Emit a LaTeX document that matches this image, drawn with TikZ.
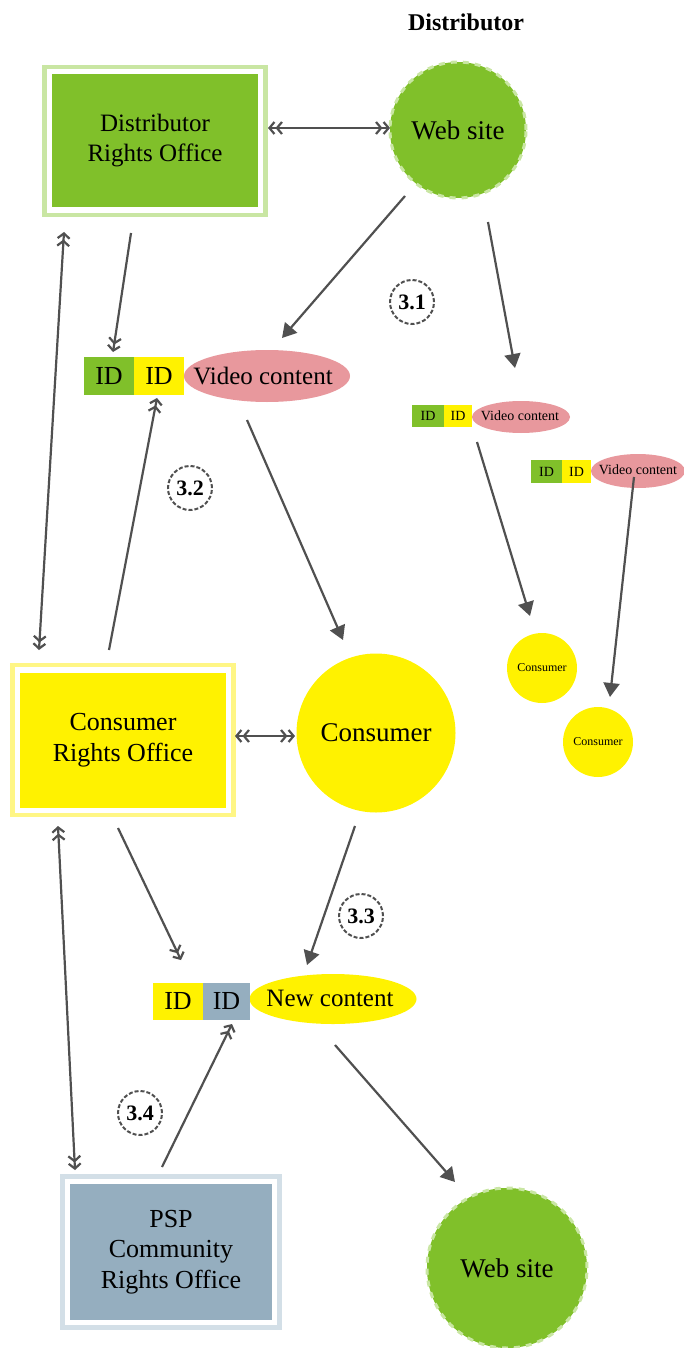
\documentclass[tikz,border=0pt]{standalone}
\usepackage{fontspec}
\setmainfont{Liberation Serif}
\usetikzlibrary{arrows.meta,fit,shapes.geometric}

\definecolor{leaf}{HTML}{80C02A}
\definecolor{leaflight}{HTML}{C9E6A3}
\definecolor{sun}{HTML}{FFF200}
\definecolor{sunlight}{HTML}{FFF685}
\definecolor{rose}{HTML}{E8989D}
\definecolor{slate}{HTML}{95AEBF}
\definecolor{slatelight}{HTML}{D3DFE7}
\definecolor{ink}{HTML}{505050}

\newcommand{\fs}[2]{\fontsize{#1}{#2}\selectfont}

\tikzset{
  office/.style={rectangle, inner sep=0pt, align=center, font=\fs{13}{15.5}},
  frame/.style={rectangle, inner sep=3.5pt, line width=2.2pt},
  site/.style={circle, inner sep=0pt, font=\fs{13.5}{16}},
  tag/.style={rectangle, inner sep=0pt, font=\fs{13}{16}},
  blob/.style={ellipse, inner sep=0pt},
  caption/.style={inner sep=0pt, font=\fs{12.5}{15}},
  stagno/.style={circle, draw=ink, dashed, dash pattern=on 2pt off 1pt, line width=1pt,
                 minimum size=22pt, inner sep=0pt, font=\bfseries\fs{11}{13}},
  link/.style={draw=ink, line width=1.1pt},
  flow/.style={link, -{Triangle[length=7pt,width=8pt]}},
  hook/.style={link, -{Straight Barb[length=2.5pt,width=6pt]Straight Barb[length=2.5pt,width=6pt]}},
  both/.style={link, {Straight Barb[length=2.5pt,width=6pt]Straight Barb[length=2.5pt,width=6pt]}-{Straight Barb[length=2.5pt,width=6pt]Straight Barb[length=2.5pt,width=6pt]}},
}

\begin{document}
\begin{tikzpicture}[x=0.5pt,y=-0.5pt]
\useasboundingbox (0,0) rectangle (684,1348);

% ---- distributor side ----
\node[font=\bfseries\fs{12}{14}] (title) at (466,22) {Distributor};

\node[office, fill=leaf, minimum width=103pt, minimum height=66.5pt, font=\fs{12.5}{15}]
  (dro) at (155,141) {Distributor\\Rights Office};
\node[frame, draw=leaflight, fit=(dro)] (droframe) {};

\node[site, fill=leaf, draw=leaflight, dashed, line width=1.5pt, minimum size=68pt]
  (web) at (458,130) {Web site};

% packaged video content
\node[blob, fill=rose, minimum width=83pt, minimum height=26pt] (vc) at (267,376) {};
\node[caption] (vctext) at (263,376) {Video content};
\node[tag, fill=leaf, minimum width=25pt, minimum height=19pt] (vid1) at (109,376) {ID};
\node[tag, fill=sun, minimum width=25pt, minimum height=19pt] (vid2) at (159,376) {ID};

% small copies of the package
\node[blob, fill=rose, minimum width=49pt, minimum height=16pt] (svc1) at (521,417) {};
\node[caption, font=\fs{7}{9}] (svctext1) at (520,416) {Video content};
\node[tag, fill=leaf, minimum width=16pt, minimum height=11pt, font=\fs{7}{9}] (sa1) at (428,416) {ID};
\node[tag, fill=sun, minimum width=14pt, minimum height=11pt, font=\fs{7}{9}] (sb1) at (458,416) {ID};

\node[blob, fill=rose, minimum width=47pt, minimum height=17pt] (svc2) at (638,471) {};
\node[caption, font=\fs{7}{9}] (svctext2) at (638,470) {Video content};
\node[tag, fill=leaf, minimum width=15.5pt, minimum height=11.5pt, font=\fs{7}{9}] (sa2) at (546.5,471.5) {ID};
\node[tag, fill=sun, minimum width=14.5pt, minimum height=11.5pt, font=\fs{7}{9}] (sb2) at (576.5,471.5) {ID};

\node[site, fill=sun, minimum size=35pt, font=\fs{6}{7}] (sc1) at (542,668) {Consumer};
\node[site, fill=sun, minimum size=35pt, font=\fs{6}{7}] (sc2) at (598,742) {Consumer};

% ---- consumer side ----
\node[office, fill=sun, minimum width=103pt, minimum height=67.5pt]
  (cro) at (123,740) {Consumer\\Rights Office};
\node[frame, draw=sunlight, fit=(cro)] (croframe) {};

\node[site, fill=sun, minimum size=79.5pt] (cons) at (376,733) {Consumer};

% new packaged content
\node[blob, fill=sun, minimum width=83.5pt, minimum height=25pt] (nc) at (333,999) {};
\node[caption] (nctext) at (330,998) {New content};
\node[tag, fill=sun, minimum width=25pt, minimum height=18.5pt] (nid1) at (178,1001.5) {ID};
\node[tag, fill=slate, minimum width=23.5pt, minimum height=18.5pt] (nid2) at (226.5,1001.5) {ID};

% ---- community side ----
\node[office, fill=slate, minimum width=101pt, minimum height=68pt, font=\fs{13}{15.25}]
  (psp) at (171,1252) {PSP\\Community\\Rights Office};
\node[frame, draw=slatelight, fit=(psp)] (pspframe) {};

\node[site, fill=leaf, draw=leaflight, dashed, line width=1.5pt, minimum size=80pt]
  (web2) at (507,1268) {Web site};

% stage numbers
\node[stagno] (s31) at (412,302) {3.1};
\node[stagno] (s32) at (190,488) {3.2};
\node[stagno] (s33) at (361,916) {3.3};
\node[stagno] (s34) at (140,1113) {3.4};

% ---- connectors ----
\coordinate (a1) at (268,128); \coordinate (a2) at (390,128);
\draw[both] (a1) -- (a2);

\coordinate (b1) at (131,233); \coordinate (b2) at (113,352);
\draw[hook] (b1) -- (b2);

\coordinate (c1) at (64,232); \coordinate (c2) at (39,650);
\draw[both] (c1) -- (c2);

\coordinate (d1) at (405,196); \coordinate (d2) at (282,338);
\draw[flow] (d1) -- (d2);

\coordinate (e1) at (488,222); \coordinate (e2) at (515,368);
\draw[flow] (e1) -- (e2);

\coordinate (f1) at (477,442); \coordinate (f2) at (530,616);
\draw[flow] (f1) -- (f2);

\coordinate (g1) at (634,477); \coordinate (g2) at (610,697);
\draw[flow] (g1) -- (g2);

\coordinate (h1) at (247,420); \coordinate (h2) at (343,640);
\draw[flow] (h1) -- (h2);

\coordinate (i1) at (109,650); \coordinate (i2) at (157,398);
\draw[hook] (i1) -- (i2);

\coordinate (j1) at (235,736); \coordinate (j2) at (295,736);
\draw[both] (j1) -- (j2);

\coordinate (k1) at (355,826); \coordinate (k2) at (307,965);
\draw[flow] (k1) -- (k2);

\coordinate (l1) at (118,828); \coordinate (l2) at (181,960);
\draw[hook] (l1) -- (l2);

\coordinate (m1) at (58,826); \coordinate (m2) at (75,1170);
\draw[both] (m1) -- (m2);

\coordinate (n1) at (162,1167); \coordinate (n2) at (232,1024);
\draw[hook] (n1) -- (n2);

\coordinate (o1) at (335,1045); \coordinate (o2) at (455,1182);
\draw[flow] (o1) -- (o2);
\end{tikzpicture}
\end{document}
